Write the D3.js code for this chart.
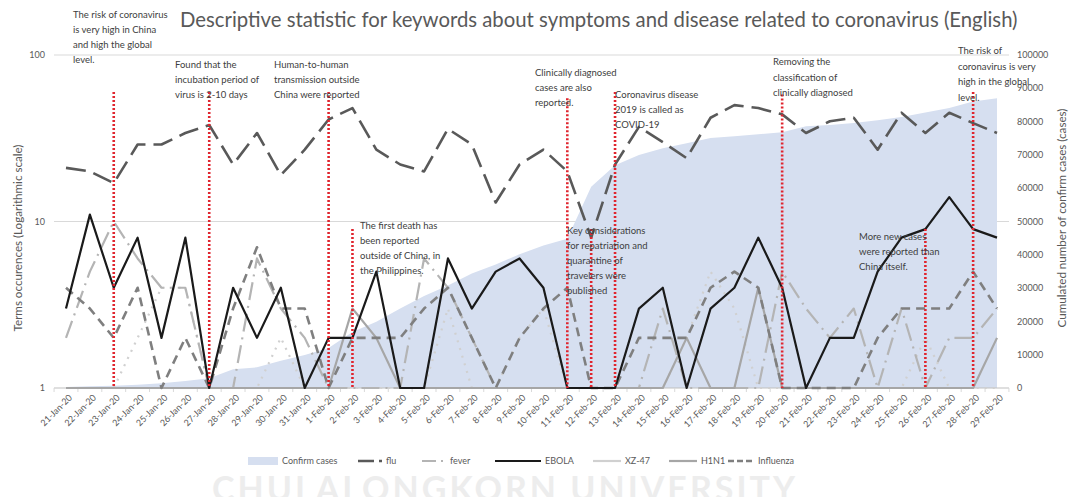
<!DOCTYPE html>
<html>
<head>
<meta charset="utf-8">
<script src="https://cdn.jsdelivr.net/npm/d3@7"></script>
<style>
  body { margin: 0; background: #fff; }
  svg { display: block; }
  text { font-family: Lato, "Open Sans", sans-serif; }
</style>
</head>
<body>
<svg id="chart" width="1076" height="497"></svg>
<script>
// ---- data -------------------------------------------------------------
const dates = ["21-Jan-20","22-Jan-20","23-Jan-20","24-Jan-20","25-Jan-20","26-Jan-20","27-Jan-20",
  "28-Jan-20","29-Jan-20","30-Jan-20","31-Jan-20","1-Feb-20","2-Feb-20","3-Feb-20","4-Feb-20",
  "5-Feb-20","6-Feb-20","7-Feb-20","8-Feb-20","9-Feb-20","10-Feb-20","11-Feb-20","12-Feb-20",
  "13-Feb-20","14-Feb-20","15-Feb-20","16-Feb-20","17-Feb-20","18-Feb-20","19-Feb-20","20-Feb-20",
  "21-Feb-20","22-Feb-20","23-Feb-20","24-Feb-20","25-Feb-20","26-Feb-20","27-Feb-20","28-Feb-20","29-Feb-20"];

// cumulated confirmed cases (right axis)
const confirmCases = [300,550,650,950,1400,2100,2900,5600,6200,8200,9900,12000,16800,19900,23900,
  27600,30800,34400,37100,40200,42800,44800,60400,66900,70000,72000,73500,75100,75600,76200,
  76800,78600,79000,79600,80400,81400,82700,84100,86000,87000];

// keyword occurrences (left axis, log scale)
const flu = [21,20,17,29,29,34,38,22,34,19,27,41,48,27,22,20,36,29,13,22,27,20,8,22,37,30,24,
  42,50,48,44,34,40,42,27,45,34,45,39,34];
const fever = [2,5,10,6,4,4,1,1,6,3,2,1,1,1,1,6,4,2,1,1,1,1,1,1,1,3,1,1,1,1,5,3,2,3,1,3,1,2,2,3];
const ebola = [3,11,4,8,2,8,1,4,2,4,1,2,2,5,1,1,6,3,5,6,4,1,1,1,3,4,1,3,4,8,4,1,2,2,5,8,9,14,9,8];
const xz47 = [1,1,1,2,4,4,1,1,1,2,1,1,1,1,1,1,3,1,1,2,3,1,1,1,1,1,2,5,3,1,1,1,1,1,1,1,2,1,1,1];
const h1n1 = [1,1,1,1,1,1,1,1,1,1,1,1,3,2,1,1,1,1,1,1,1,1,1,1,1,1,2,1,1,4,1,1,1,1,1,1,1,1,1,2];
const influenza = [4,3,2,4,1,2,1,3,7,3,3,1,2,2,2,3,4,2,1,2,3,4,1,1,2,2,2,4,5,4,1,1,1,1,2,3,3,3,5,3];

const leftTicks = [1, 10, 100];
const rightTicks = [0,10000,20000,30000,40000,50000,60000,70000,80000,90000,100000];

// events marked with red dotted lines; top = level (left axis) where the marker starts
const events = [
  { date: "23-Jan-20", top: 60, lines: ["The risk of coronavirus","is very high in China","and high the global","level."] },
  { date: "27-Jan-20", top: 60, lines: ["Found that the","incubation period of","virus is 2-10 days"] },
  { date: "1-Feb-20",  top: 60, lines: ["Human-to-human","transmission outside","China were reported"] },
  { date: "2-Feb-20",  top: 9,  lines: ["The first death has","been reported","outside of China, in","the Philippines."] },
  { date: "11-Feb-20", top: 55, lines: ["Clinically diagnosed","cases are also","reported."] },
  { date: "12-Feb-20", top: 9,  lines: ["Key considerations","for repatriation and","quarantine of","travelers were","published"] },
  { date: "13-Feb-20", top: 60, lines: ["Coronavirus disease","2019 is called as","COVID-19"] },
  { date: "20-Feb-20", top: 58, lines: ["Removing the","classification of","clinically diagnosed"] },
  { date: "26-Feb-20", top: 9,  lines: ["More new cases","were reported than","China itself."] },
  { date: "28-Feb-20", top: 60, lines: ["The risk of","coronavirus is very","high in the global","level."] }
];
// label anchor for each event text block (x, baseline of first line, line spacing)
const eventLabelPos = [
  [73, 18, 15], [175, 68, 15], [274, 68, 15], [360, 229, 15], [535, 76, 15],
  [567, 234, 15], [615, 98, 15], [773, 65, 15.5], [859, 240, 15], [958, 54, 15.5]
];

// ---- layout -----------------------------------------------------------
const svg = d3.select("#chart");
const W = 1076, H = 497;
const plot = { left: 54, right: 1009, top: 55, bottom: 388 };

svg.append("rect").attr("width", W).attr("height", H).attr("fill", "#fff");

// faint watermark along the bottom edge
svg.append("text")
  .attr("x", 505).attr("y", 501)
  .attr("text-anchor", "middle")
  .attr("font-family", "Roboto, 'Liberation Sans', sans-serif")
  .attr("font-weight", 700)
  .attr("font-size", 34)
  .attr("letter-spacing", 3)
  .attr("fill", "#ededed")
  .text("CHULALONGKORN UNIVERSITY");

const x = d3.scalePoint().domain(dates).range([66, 997]);
const step = x.step();
const yL = d3.scaleLog().domain([1, 100]).range([plot.bottom, plot.top]);
const yR = d3.scaleLinear().domain([0, 100000]).range([plot.bottom, plot.top]);

// gridlines
svg.append("g").selectAll("line").data(leftTicks.filter(d => d > 1)).join("line")
  .attr("x1", plot.left).attr("x2", plot.right)
  .attr("y1", d => yL(d)).attr("y2", d => yL(d))
  .attr("stroke", "#d9d9d9").attr("stroke-width", 1);

// confirmed cases area
const area = d3.area()
  .x((d, i) => x(dates[i]))
  .y0(yR(0))
  .y1(d => yR(d));
svg.append("path").datum(confirmCases)
  .attr("d", area)
  .attr("fill", "#d6dff0");

// x axis
const xAxis = d3.axisBottom(x).tickSize(0).tickFormat(d => d);
const gx = svg.append("g").attr("transform", `translate(0,${plot.bottom})`).call(xAxis);
gx.select(".domain").attr("stroke", "#bfbfbf").attr("d", `M${plot.left},0H${plot.right}`);
gx.selectAll(".tick text")
  .attr("font-family", "Lato, sans-serif")
  .attr("font-size", 9)
  .attr("fill", "#595959")
  .attr("text-anchor", "end")
  .attr("transform", "translate(4,8) rotate(-45)")
  .attr("dy", "0.35em").attr("dx", 0).attr("y", 0).attr("x", 0);
// category boundary tick marks
svg.append("g").selectAll("line").data(d3.range(dates.length + 1)).join("line")
  .attr("x1", i => x(dates[0]) - step / 2 + i * step)
  .attr("x2", i => x(dates[0]) - step / 2 + i * step)
  .attr("y1", plot.bottom).attr("y2", plot.bottom + 4)
  .attr("stroke", "#d9d9d9");

// left axis labels
svg.append("g").selectAll("text").data(leftTicks).join("text")
  .attr("x", 45).attr("y", d => yL(d)).attr("dy", "0.35em")
  .attr("text-anchor", "end").attr("font-size", 9).attr("fill", "#595959")
  .text(d => d);

// right axis labels
svg.append("g").selectAll("text").data(rightTicks).join("text")
  .attr("x", 1017).attr("y", d => yR(d)).attr("dy", "0.35em")
  .attr("text-anchor", "start").attr("font-size", 9).attr("fill", "#595959")
  .text(d => d);

// axis titles
svg.append("text")
  .attr("transform", "translate(18,238) rotate(-90)")
  .attr("text-anchor", "middle").attr("dy", "0.35em").attr("font-size", 11.6).attr("fill", "#595959")
  .text("Terms occurences (Logarithmic scale)");
svg.append("text")
  .attr("transform", "translate(1062,218) rotate(-90)")
  .attr("text-anchor", "middle").attr("dy", "0.35em").attr("font-size", 11.6).attr("fill", "#595959")
  .text("Cumulated number of confirm cases (cases)");

// title, sized to span the top of the chart
const title = svg.append("text")
  .attr("x", 180).attr("y", 27)
  .attr("font-size", 20).attr("fill", "#595959")
  .text("Descriptive statistic for keywords about symptoms and disease related to coronavirus (English)");
const tw = title.node().getComputedTextLength();
title.attr("font-size", 20 * 838 / tw);

// keyword series
const seriesDefs = [
  { name: "flu",       values: flu,       color: "#595959", width: 2.6, dash: "20,8" },
  { name: "fever",     values: fever,     color: "#b4b4b4", width: 2.2, dash: "18,6,2,6" },
  { name: "EBOLA",     values: ebola,     color: "#1a1a1a", width: 2.2, dash: null },
  { name: "XZ-47",     values: xz47,      color: "#d0d0d0", width: 2.2, dash: "2,6" },
  { name: "H1N1",      values: h1n1,      color: "#a6a6a6", width: 2.2, dash: null },
  { name: "Influenza", values: influenza, color: "#7f7f7f", width: 2.6, dash: "9,6" }
];
const line = d3.line().x((d, i) => x(dates[i])).y(d => yL(d));
const drawOrder = ["XZ-47", "fever", "H1N1", "Influenza", "flu", "EBOLA"];
drawOrder.forEach(n => {
  const s = seriesDefs.find(d => d.name === n);
  svg.append("path").datum(s.values)
    .attr("d", line)
    .attr("fill", "none")
    .attr("stroke", s.color)
    .attr("stroke-width", s.width)
    .attr("stroke-dasharray", s.dash)
    .attr("stroke-linejoin", "round");
});

// event markers
svg.append("g").selectAll("line").data(events).join("line")
  .attr("x1", d => x(d.date)).attr("x2", d => x(d.date))
  .attr("y1", d => yL(d.top)).attr("y2", plot.bottom)
  .attr("stroke", "#e0252e").attr("stroke-width", 2.6)
  .attr("stroke-dasharray", "2,2");

const labels = svg.append("g").attr("font-size", 9.5).attr("fill", "#404040");
events.forEach((e, i) => {
  const [lx, ly, lh] = eventLabelPos[i];
  const t = labels.append("text").attr("x", lx).attr("y", ly);
  e.lines.forEach((l, j) => {
    t.append("tspan").attr("x", lx).attr("dy", j === 0 ? 0 : lh).text(l);
  });
});

// legend
const legendItems = [
  { name: "Confirm cases", type: "area", x: 248, w: 30 },
  { name: "flu", x: 358, w: 24 },
  { name: "fever", x: 422, w: 24 },
  { name: "EBOLA", x: 495, w: 46 },
  { name: "XZ-47", x: 593, w: 28 },
  { name: "H1N1", x: 669, w: 28 },
  { name: "Influenza", x: 728, w: 26 }
];
const legendDash = { flu: "16,5", fever: "14,5,2,5", Influenza: "6,3" };
const lg = svg.append("g").attr("transform", "translate(0,461)");
legendItems.forEach(it => {
  if (it.type === "area") {
    lg.append("rect").attr("x", it.x).attr("y", -4).attr("width", it.w).attr("height", 8).attr("fill", "#d6dff0");
  } else {
    const s = seriesDefs.find(d => d.name === it.name);
    lg.append("line").attr("x1", it.x).attr("x2", it.x + it.w).attr("y1", 0).attr("y2", 0)
      .attr("stroke", s.color).attr("stroke-width", s.width)
      .attr("stroke-dasharray", legendDash[s.name] || null);
  }
  lg.append("text").attr("x", it.x + it.w + 4).attr("y", 0).attr("dy", "0.35em")
    .attr("font-size", 9).attr("fill", "#595959").text(it.name);
});
</script>
</body>
</html>
